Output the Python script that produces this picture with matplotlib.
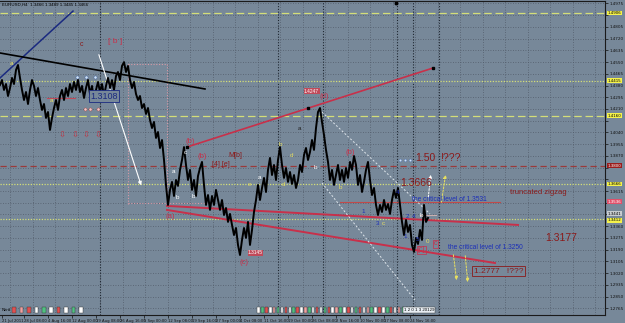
import matplotlib
matplotlib.use("Agg")
import matplotlib.pyplot as plt

# EURUSD H4 close, one sample roughly every 10-11 hours (21 Jul - 28 Nov 2011)
price = [
    1.4384, 1.4420, 1.4348, 1.4391, 1.4304, 1.4362, 1.4435, 1.4391, 1.4493, 1.4529,
    1.4435, 1.4348, 1.4275, 1.4333, 1.4246, 1.4348, 1.4420, 1.4377, 1.4304, 1.4362,
    1.4275, 1.4203, 1.4246, 1.4145, 1.4188, 1.4058, 1.4145, 1.4217, 1.4275, 1.4203,
    1.4304, 1.4348, 1.4275, 1.4362, 1.4304, 1.4391, 1.4333, 1.4406, 1.4348, 1.4420,
    1.4333, 1.4377, 1.4290, 1.4362, 1.4420, 1.4319, 1.4377, 1.4275, 1.4348, 1.4406,
    1.4333, 1.4391, 1.4304, 1.4377, 1.4435, 1.4362, 1.4420, 1.4348, 1.4449, 1.4478,
    1.4420, 1.4522, 1.4550, 1.4478, 1.4522, 1.4420, 1.4362, 1.4406, 1.4319, 1.4275,
    1.4304, 1.4217, 1.4246, 1.4174, 1.4217, 1.4130, 1.4072, 1.4116, 1.4000, 1.4043,
    1.3927, 1.3985, 1.3840, 1.3659, 1.3514, 1.3623, 1.3681, 1.3579, 1.3695, 1.3652,
    1.3768, 1.3840, 1.3934, 1.3804, 1.3695, 1.3768, 1.3623, 1.3695, 1.3579, 1.3724,
    1.3782, 1.3826, 1.3659, 1.3514, 1.3586, 1.3478, 1.3579, 1.3514, 1.3623, 1.3550,
    1.3478, 1.3550, 1.3441, 1.3492, 1.3391, 1.3449, 1.3369, 1.3296, 1.3347, 1.3224,
    1.3151, 1.3260, 1.3347, 1.3275, 1.3391, 1.3224, 1.3333, 1.3463, 1.3550, 1.3659,
    1.3550, 1.3637, 1.3710, 1.3608, 1.3768, 1.3855, 1.3731, 1.3804, 1.3695, 1.3840,
    1.3934, 1.3804, 1.3710, 1.3782, 1.3681, 1.3753, 1.3666, 1.3731, 1.3637, 1.3695,
    1.3804, 1.3753, 1.3876, 1.3927, 1.3840, 1.3898, 1.3985, 1.3913, 1.4072, 1.4188,
    1.4217, 1.4116, 1.4021, 1.3913, 1.3826, 1.3695, 1.3768, 1.3659, 1.3731, 1.3804,
    1.3695, 1.3768, 1.3681, 1.3782, 1.3710, 1.3826, 1.3768, 1.3869, 1.3804, 1.3659,
    1.3731, 1.3608, 1.3681, 1.3768, 1.3826, 1.3695, 1.3586, 1.3637, 1.3514, 1.3441,
    1.3514, 1.3463, 1.3550, 1.3478, 1.3521, 1.3449, 1.3550, 1.3623, 1.3565, 1.3637,
    1.3514, 1.3391, 1.3296, 1.3405, 1.3318, 1.3369, 1.3224, 1.3173, 1.3275, 1.3231,
    1.3333, 1.3260, 1.3514, 1.3391, 1.3420,
]

date_labels = ["21 Jul 2011", "28 Jul 08:00", "4 Aug 16:00", "12 Aug 00:00", "19 Aug 08:00",
               "26 Aug 16:00", "5 Sep 00:00", "12 Sep 08:00", "19 Sep 16:00", "27 Sep 00:00",
               "4 Oct 08:00", "11 Oct 16:00", "19 Oct 00:00", "26 Oct 08:00", "2 Nov 16:00",
               "10 Nov 00:00", "17 Nov 08:00", "24 Nov 16:00"]
date_pos = [1, 12, 24, 36, 48, 60, 72, 84, 96, 108, 120, 132, 144, 156, 168, 180, 192, 205]

price_ticks = [1.4975, 1.4890, 1.4805, 1.4720, 1.4635, 1.4550, 1.4465, 1.4380, 1.4295,
               1.4210, 1.4125, 1.4040, 1.3955, 1.3870, 1.3785, 1.3700, 1.3615, 1.3530,
               1.3445, 1.3360, 1.3275, 1.3190, 1.3105, 1.3020, 1.2935, 1.2850, 1.2765]

# horizontal levels drawn across the whole chart
levels = [1.4906, 1.4415, 1.4160, 1.3800, 1.3666, 1.3412]
level_kind = ["dash", "dot", "dash", "red", "dot", "dot"]

# price tags on the right scale
tag_values = [1.4906, 1.4415, 1.4160, 1.3800, 1.3666, 1.3536, 1.3441, 1.3412]

BG = "#778899"
YEL = "#d4de78"
DRED = "#8b1a1a"
RED = "#c8304a"
BLUE = "#1c2fb8"

fig = plt.figure(figsize=(6.25, 3.23), dpi=100, facecolor=BG)
ax = fig.add_axes([0, 8 / 323, 605 / 625, 314 / 323], facecolor=BG)
ax.set_xlim(0, 302.5)
ax.set_ylim(1.2716, 1.4993)

# grid
for gx in [5 + 11.25 * k for k in range(27)]:
    ax.axvline(gx, color="#525d6a", lw=0.6, ls=(0, (1, 2)), zorder=0)
for gy in price_ticks:
    ax.axhline(gy, color="#525d6a", lw=0.6, ls=(0, (1, 2)), zorder=0)
for gx in [50, 139, 161.5, 198.5, 206.5, 219.5]:
    ax.axvline(gx, color="#1f2731", lw=0.8, ls=(0, (1, 1.5)), zorder=0)

# levels
for lv, kind in zip(levels, level_kind):
    if kind == "dash":
        ax.axhline(lv, color=YEL, lw=0.9, ls=(0, (6, 3)), zorder=1)
    elif kind == "dot":
        ax.axhline(lv, color=YEL, lw=0.9, ls=(0, (1, 1.2)), zorder=1)
    else:
        ax.axhline(lv, color="#9a3a3a", lw=0.9, ls=(0, (5, 3)), zorder=1)
ax.plot([170, 250], [1.3536, 1.3536], color="#c04a4a", lw=0.8)
ax.plot([210, 218], [1.3441, 1.3441], color="#c9b0b0", lw=0.8)

# pink dotted box
pk = dict(color="#d89aa6", lw=0.8, ls=(0, (1, 1.5)))
ax.plot([64, 83.5], [1.4536, 1.4536], **pk)
ax.plot([64, 64], [1.4536, 1.3514], **pk)
ax.plot([83.5, 83.5], [1.4536, 1.3514], **pk)
ax.plot([64, 105], [1.3528, 1.3528], **pk)
ax.plot([23.5, 37.5], [1.4290, 1.4290], color="#c04a5a", lw=0.8)

# trend lines
ax.plot([0, 36.5], [1.4435, 1.4920], color="#1a2a80", lw=1.1)
ax.plot([0, 102.5], [1.4616, 1.4355], color="black", lw=1.2)
ax.plot([93.5, 216.5], [1.3934, 1.4507], color=RED, lw=1.2)
ax.plot([93.5, 154, 216.5], [1.3934, 1.4217, 1.4507], ls="none", marker="s", ms=2, color="black")
ax.plot([83.5, 259], [1.3507, 1.3369], color=RED, lw=1.4)
ax.plot([83.5, 247.5], [1.3478, 1.3093], color=RED, lw=1.4)
ax.plot([161, 215], [1.4188, 1.3449], color="#dde4ea", lw=0.7, ls=(0, (2, 2)))
ax.plot([161, 207.5], [1.3673, 1.2825], color="#dde4ea", lw=0.7, ls=(0, (2, 2)))
ax.annotate("", xy=(71, 1.3637), xytext=(49, 1.4623),
            arrowprops=dict(arrowstyle="-|>", color="white", lw=0.8, mutation_scale=5))
ax.plot([198, 198], [1.4980, 1.4980], marker="s", ms=2, color="black", ls="none")

# price
ax.plot(range(len(price)), price, color="black", lw=1.4, zorder=3)

# arrows
for (x0, y0, x1, y1, c) in [(214, 1.3550, 215.5, 1.3753, "white"), (220.5, 1.3514, 223, 1.3753, "#e8e060"),
                            (226.5, 1.3173, 228.5, 1.2948, "#e8e060"), (232.5, 1.3166, 234, 1.2934, "#e8e060")]:
    ax.annotate("", xy=(x1, y1), xytext=(x0, y0),
                arrowprops=dict(arrowstyle="-|>", color=c, lw=0.7, ls=(0, (2, 1.5)), mutation_scale=5))

# text annotations
T = dict(family="Liberation Sans")
ax.text(1, 1.4960, "EURUSD,H4  1.3466 1.3489 1.3445 1.3466", fontsize=3.2, color="black", **T)
ax.text(40, 1.4667, "c", fontsize=5, color=DRED, **T)
ax.text(54, 1.4688, "[ b ]", fontsize=6, color=RED, **T)
ax.text(45, 1.4304, "1.3108", fontsize=6.5, color="#1a2a80", va="center", **T,
        bbox=dict(boxstyle="square,pad=0.15", fc=BG, ec="#1a2a80", lw=0.6))
ax.text(93, 1.3963, "(b)", fontsize=5.5, color=RED, **T)
ax.text(99, 1.3855, "(b)", fontsize=5.5, color=RED, **T)
ax.text(83, 1.3420, "(a)", fontsize=5.5, color=RED, **T)
ax.text(120, 1.3085, "(c)", fontsize=5.5, color=RED, **T)
ax.text(124, 1.3166, "1.3145", fontsize=3.5, color="white", va="center", **T,
        bbox=dict(boxstyle="square,pad=0.1", fc="#c04a5a", ec="none"))
ax.text(114, 1.3862, "M[b]", fontsize=5, color=DRED, **T)
ax.text(106, 1.3800, "[4] [e]", fontsize=5, color=DRED, **T)
ax.text(152, 1.4340, "1.4247", fontsize=3.5, color="white", va="center", **T,
        bbox=dict(boxstyle="square,pad=0.1", fc="#c04a5a", ec="none"))
ax.text(160, 1.4290, "(d)", fontsize=5.5, color=RED, **T)
ax.text(173, 1.3884, "(b)", fontsize=5.5, color=RED, **T)
ax.text(200, 1.3673, "1.3666", fontsize=7.5, color=DRED, va="center", **T)
ax.text(207.5, 1.3855, "1.50", fontsize=7.5, color=DRED, va="center", **T)
ax.text(220, 1.3855, "!???", fontsize=7.5, color=DRED, va="center", **T)
ax.text(206, 1.3557, "the critical level of 1.3531", fontsize=4.8, color=BLUE, va="center", **T)
ax.text(255, 1.3601, "truncated zigzag", fontsize=5.5, color=DRED, va="center", **T)
ax.text(272.5, 1.3275, "1.3177", fontsize=7.5, color=DRED, va="center", **T)
ax.text(224, 1.3202, "the critical level of 1.3250", fontsize=4.8, color=BLUE, va="center", **T)
ax.text(237, 1.3035, "1.2777   !???", fontsize=6, color=DRED, va="center", **T,
        bbox=dict(boxstyle="square,pad=0.2", fc=BG, ec=DRED, lw=0.6))
ax.text(209, 1.3188, "[c]", fontsize=5, color=RED, va="center", **T,
        bbox=dict(boxstyle="square,pad=0.1", fc="none", ec=RED, lw=0.5))
ax.text(217, 1.3231, "c", fontsize=5, color=RED, va="center", **T,
        bbox=dict(boxstyle="square,pad=0.1", fc="none", ec=RED, lw=0.5))

for (x, y, s) in [(181.5, 1.3463, "1"), (189, 1.3383, "3"), (202.5, 1.3282, "1"), (203.5, 1.3427, "2"),
                  (207, 1.3427, "4"), (208.5, 1.3260, "5"), (199, 1.3601, "4")]:
    ax.text(x, y, s, fontsize=4.5, color=BLUE, ha="center", va="center", **T)
for (x, y, s, c) in [(6, 1.4543, "a", "#e8e060"), (25.5, 1.4275, "a", "#e8e060"), (92.5, 1.3898, "c", "white"),
                     (88.5, 1.3565, "b", "white"), (86.5, 1.3753, "a", "white"), (96.5, 1.3572, "b", "white"),
                     (140, 1.3949, "b", "#e8e060"), (146, 1.3876, "d", "#e8e060"), (150, 1.4072, "a", "#222222"),
                     (157.5, 1.3782, "b", "white"), (170, 1.3637, "b", "#e8e060"), (125, 1.3659, "e", "#e8e060"),
                     (130, 1.3710, "a", "white"), (141.5, 1.3659, "d", "#e8e060"), (191.5, 1.3383, "c", "#e8e060"),
                     (210.5, 1.3441, "b", "white"), (213.5, 1.3246, "0", "#e8e060")]:
    ax.text(x, y, s, fontsize=4.5, color=c, ha="center", va="center", **T)

for x in [31, 37.5, 43, 49]:
    ax.text(x, 1.4021, "\u21e9", fontsize=6, color="#c03040", ha="center", va="center")
ax.scatter([38.5, 43, 47.5], [1.4442, 1.4442, 1.4442], s=5, marker="o", fc="#cfe3f5", ec="#4060a0", lw=0.3)
ax.scatter([42.5, 45, 49], [1.4210, 1.4210, 1.4210], s=5, marker="o", fc="#f0c8c8", ec="#a04040", lw=0.3)
ax.scatter([200, 202.5, 205], [1.3840, 1.3840, 1.3840], s=4, marker="o", fc="#cfe3f5", ec="#4060a0", lw=0.3)

# small coloured object tags along the bottom
ax.text(1, 1.2752, "Nerd", fontsize=3, color="black", va="center", **T)
for i, c in enumerate(["#e05050", "#f0a0a0", "#e05050", "#ffffff", "#50c080", "#ffffff", "#e05050", "#ffffff", "#50c080", "#ffffff"]):
    ax.text(6.5 + i * 3.7, 1.2752, "  ", fontsize=2.5, va="center",
            bbox=dict(boxstyle="square,pad=0.2", fc=c, ec="#333333", lw=0.3))
for i, c in enumerate(["#ffffff", "#50c080", "#e05050", "#ffffff", "#f0a0a0", "#50c080", "#ffffff", "#e05050"] * 5):
    ax.text(129 + i * 1.95, 1.2752, " ", fontsize=2.5, va="center",
            bbox=dict(boxstyle="square,pad=0.2", fc=c, ec="#333333", lw=0.3))
ax.text(202, 1.2752, "1 2 0 1 3 20129", fontsize=3.2, color="black", va="center", **T,
        bbox=dict(boxstyle="square,pad=0.2", fc="#e8eef4", ec="#333333", lw=0.3))

# right price tags (they cover the scale labels beneath them)
tag_colors = [("#f5f24a", "black"), ("#f5f24a", "black"), ("#f5f24a", "black"), ("#9a1c1c", "white"),
              ("#f5f24a", "black"), ("#e0506a", "white"), ("#c8ccd0", "black"), ("#f5f24a", "black")]
tag_offsets = [0, 0, 0, 0, 0, 0, 0.0008, -0.0008]
for v, (fc, tc), off in zip(tag_values, tag_colors, tag_offsets):
    ax.text(1.004, v + off, f"{v:.4f}", transform=ax.get_yaxis_transform(), fontsize=2.9, color=tc,
            va="center", ha="left", clip_on=False,
            bbox=dict(boxstyle="square,pad=0.12", fc=fc, ec="none"))

# axes
ax.yaxis.tick_right()
ax.set_yticks(price_ticks,
              ["" if min(abs(t - v) for v in tag_values) < 0.0035 else f"{t:.4f}" for t in price_ticks])
ax.set_xticks(date_pos, date_labels)
ax.tick_params(axis="y", labelsize=3.0, length=2, pad=1.5, colors="#111111", width=0.5)
ax.tick_params(axis="x", labelsize=2.7, length=2, pad=1, colors="#111111", width=0.5)
for lab in ax.get_xticklabels():
    lab.set_horizontalalignment("left")
ax.spines["left"].set_visible(False)
for s in ["right", "bottom", "top"]:
    ax.spines[s].set_color("#1a1a1a")
    ax.spines[s].set_linewidth(0.8)

fig.savefig("out.png", dpi=100, facecolor=BG)
